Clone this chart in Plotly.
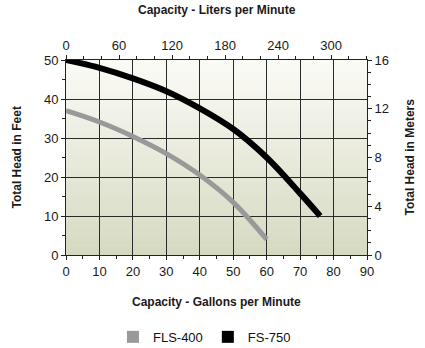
import plotly.graph_objects as go

# Data
gpm_fls400 = [0, 10, 20, 30, 40, 50, 60]
head_fls400 = [37, 34.1, 30.4, 26, 20.5, 13.5, 4]
gpm_fs750 = [0, 10, 20, 30, 40, 50, 60, 70, 76]
head_fs750 = [50, 48, 45.3, 42, 37.6, 32.3, 25, 15.8, 10]

gpm_ticks = [0, 10, 20, 30, 40, 50, 60, 70, 80, 90]
feet_ticks = [0, 10, 20, 30, 40, 50]
lpm_ticks = [0, 60, 120, 180, 240, 300]
meter_ticks = [0, 4, 8, 12, 16]

GPM_MAX = 90
LPM_PER_GPM = 3.785

FONT = "Liberation Sans, Arial, Helvetica, sans-serif"

fig = go.Figure()

fig.add_trace(go.Scatter(x=gpm_fls400, y=head_fls400, mode="lines",
                         line=dict(color="#999999", width=5, shape="spline", smoothing=1.0),
                         showlegend=False, hoverinfo="skip"))
fig.add_trace(go.Scatter(x=gpm_fs750, y=head_fs750, mode="lines",
                         line=dict(color="#000000", width=6, shape="spline", smoothing=1.0),
                         showlegend=False, hoverinfo="skip"))
# legend entries (square swatches)
fig.add_trace(go.Scatter(x=[None], y=[None], mode="markers", name="FLS-400",
                         marker=dict(symbol="square", color="#999999", size=8)))
fig.add_trace(go.Scatter(x=[None], y=[None], mode="markers", name="FS-750",
                         marker=dict(symbol="square", color="#000000", size=8)))
# invisible trace for secondary axes
fig.add_trace(go.Scatter(x=[0], y=[0], xaxis="x2", yaxis="y2", mode="markers",
                         marker=dict(opacity=0), showlegend=False, hoverinfo="skip"))

# gradient background
shapes = []
n = 60
top = (251, 251, 246)
bot = (214, 217, 193)
for i in range(n):
    t = (i + 0.5) / n
    c = tuple(int(round(top[k] + (bot[k] - top[k]) * t)) for k in range(3))
    y1 = 1 - i / n
    y0 = 1 - (i + 1) / n
    shapes.append(dict(type="rect", xref="paper", yref="paper", x0=0, x1=1,
                       y0=y0 - 0.002, y1=y1, fillcolor="rgb(%d,%d,%d)" % c,
                       line=dict(width=0), layer="below"))

tickfont = dict(family=FONT, size=13, color="#1a1a1a")
axcommon = dict(showline=True, linecolor="#222", linewidth=1, ticks="outside",
                ticklen=4, tickcolor="#222", tickfont=tickfont, zeroline=False)

fig.update_layout(
    width=425, height=348,
    margin=dict(l=66, r=58, t=60, b=93, autoexpand=False),
    paper_bgcolor="white", plot_bgcolor="rgba(0,0,0,0)",
    font=dict(family=FONT, color="#1a1a1a"),
    shapes=shapes,
    xaxis=dict(range=[0, GPM_MAX], tickvals=gpm_ticks, showgrid=True,
               gridcolor="#2a2a2a", gridwidth=1, mirror=False,
               minor=dict(dtick=5, ticks="outside", ticklen=3, tickcolor="#222", showgrid=False),
               **axcommon),
    yaxis=dict(range=[0, 50], tickvals=feet_ticks, showgrid=True,
               gridcolor="#2a2a2a", gridwidth=1,
               minor=dict(dtick=5, ticks="outside", ticklen=3, tickcolor="#222", showgrid=False),
               **axcommon),
    xaxis2=dict(range=[0, GPM_MAX * LPM_PER_GPM], tickvals=lpm_ticks, overlaying="x",
                side="top", showgrid=False,
                minor=dict(dtick=20, ticks="outside", ticklen=3, tickcolor="#222", showgrid=False),
                **axcommon),
    yaxis2=dict(range=[0, 16], tickvals=meter_ticks, overlaying="y", side="right",
                showgrid=False,
                minor=dict(dtick=1, ticks="outside", ticklen=3, tickcolor="#222", showgrid=False),
                **axcommon),
    legend=dict(orientation="h", x=0.46, xanchor="center", yref="container",
                y=0.075, yanchor="top",
                font=dict(family=FONT, size=13, color="#111"),
                itemsizing="constant", bgcolor="rgba(0,0,0,0)", tracegroupgap=0,
                itemwidth=30),
    annotations=[
        dict(text="<b>Capacity - Liters per Minute</b>", xref="paper", yref="paper",
             x=0.5, y=1, yshift=50, xanchor="center", yanchor="middle", showarrow=False,
             font=dict(size=12, family=FONT)),
        dict(text="<b>Capacity - Gallons per Minute</b>", xref="paper", yref="paper",
             x=0.5, y=0, yshift=-47, xanchor="center", yanchor="middle", showarrow=False,
             font=dict(size=12, family=FONT)),
        dict(text="<b>Total Head in Feet</b>", xref="paper", yref="paper",
             x=0, xshift=-50, y=0.5, xanchor="center", yanchor="middle", showarrow=False,
             textangle=-90, font=dict(size=12, family=FONT)),
        dict(text="<b>Total Head in Meters</b>", xref="paper", yref="paper",
             x=1, xshift=42, y=0.5, xanchor="center", yanchor="middle", showarrow=False,
             textangle=-90, font=dict(size=12, family=FONT)),
    ],
)

fig.write_html("out.html")
